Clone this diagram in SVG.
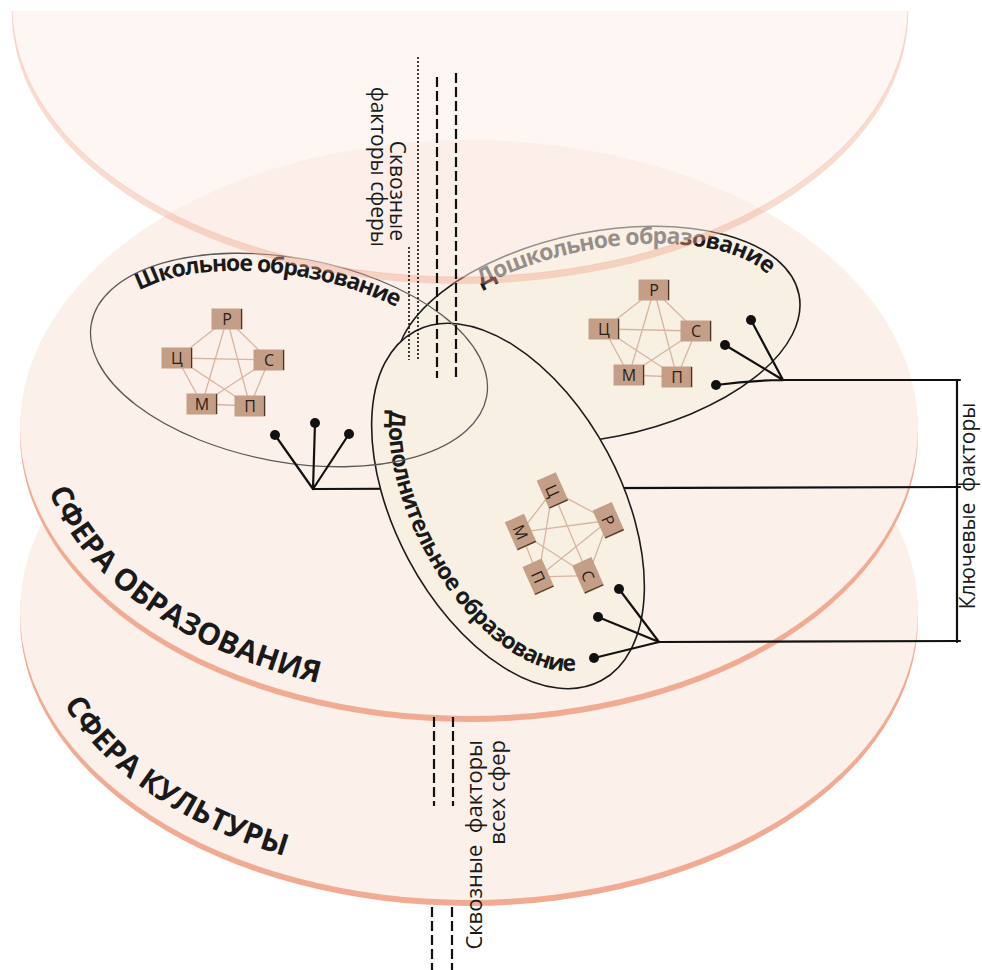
<svg xmlns="http://www.w3.org/2000/svg" xmlns:xlink="http://www.w3.org/1999/xlink" width="982" height="970" viewBox="0 0 982 970">
<style>
.sph-fill{fill:#fcf0ea}
.sph-edge{fill:#f1ab92}
.cl{fill:#f8f1e3;stroke:#1c1c1c;stroke-width:1.6}
.school{fill:none;stroke:#5a5a5a;stroke-width:1.3}
.lbl{font-family:"Open Sans","Noto Sans","DejaVu Sans",sans-serif;fill:#1a1a1a}
.b{font-weight:700}
.gl{stroke:#d8b5a1;stroke-width:1.3}
.box{fill:#c59e88}
.boxsh{stroke:#4a3526;stroke-width:1.2;fill:none}
.boxt{font-family:"Open Sans","Noto Sans",sans-serif;font-size:16px;fill:#2a1f18;text-anchor:middle}
.con{stroke:#111;stroke-width:2.2;fill:none;stroke-linecap:round}
.dot{fill:#111}
.dash{stroke:#111;stroke-width:2.2;stroke-dasharray:10 4;fill:none}
.dotl{stroke:#111;stroke-width:1.6;stroke-dasharray:2 2;fill:none}
</style>
<defs>
<clipPath id="clipTop"><rect x="0" y="11" width="982" height="400"/></clipPath>
<g id="pent">
<path class="gl" d="M2,-50L-48,-11M2,-50L44,-9M2,-50L-23,35M2,-50L25,37M-48,-11L44,-9M-48,-11L-23,35M-48,-11L25,37M44,-9L-23,35M44,-9L25,37M-23,35L25,37"/>
<g transform="translate(2,-50)"><rect class="box" x="-15.5" y="-10.5" width="31" height="21"/><path class="boxsh" d="M14.5,-10V10"/><text class="boxt" y="6">Р</text></g>
<g transform="translate(-48,-11)"><rect class="box" x="-15.5" y="-10.5" width="31" height="21"/><path class="boxsh" d="M14.5,-10V10"/><text class="boxt" y="6">Ц</text></g>
<g transform="translate(44,-9)"><rect class="box" x="-15.5" y="-10.5" width="31" height="21"/><path class="boxsh" d="M14.5,-10V10"/><text class="boxt" y="6">С</text></g>
<g transform="translate(-23,35)"><rect class="box" x="-15.5" y="-10.5" width="31" height="21"/><path class="boxsh" d="M14.5,-10V10"/><text class="boxt" y="6">М</text></g>
<g transform="translate(25,37)"><rect class="box" x="-15.5" y="-10.5" width="31" height="21"/><path class="boxsh" d="M14.5,-10V10"/><text class="boxt" y="6">П</text></g>
</g>
</defs>

<g id="sphere-culture">
<ellipse class="sph-edge" cx="469" cy="618" rx="449" ry="288"/>
<ellipse class="sph-fill" cx="469" cy="612" rx="449" ry="288"/>
</g>
<g id="sphere-education">
<ellipse class="sph-edge" cx="469" cy="434" rx="449" ry="288"/>
<ellipse class="sph-fill" cx="469" cy="428" rx="449" ry="288"/>
</g>

<g id="connectors-back">
<path class="con" d="M313,489L960,487"/>
</g>

<g id="cluster-preschool">
<ellipse class="cl" cx="598" cy="335" rx="205" ry="103" transform="rotate(-11.4 598 335)"/>
<use xlink:href="#pent" href="#pent" transform="translate(652,340)"/>
<g transform="translate(598,335) rotate(-11.4)">
<path id="tpPre" d="M-104.6,-70.5A187 85 0 0 1 185.2,-11.8" fill="none"/>
<text class="lbl b" font-size="23"><textPath href="#tpPre" xlink:href="#tpPre" textLength="300" lengthAdjust="spacing">Дошкольное образование</textPath></text>
</g>
</g>

<g id="cluster-additional">
<ellipse class="cl" cx="508" cy="506" rx="198" ry="113" transform="rotate(62 508 506)"/>
<use xlink:href="#pent" href="#pent" transform="translate(562,539) rotate(66)"/>
<g transform="translate(508,506) rotate(62)">
<path id="tpAdd" d="M-139.9,59.8A180 95 0 0 0 180,0" fill="none"/>
<text class="lbl b" font-size="23"><textPath href="#tpAdd" xlink:href="#tpAdd" textLength="350" lengthAdjust="spacing">Дополнительное образование</textPath></text>
</g>
</g>

<g id="cluster-school">
<ellipse class="school" cx="289" cy="360" rx="201" ry="102" transform="rotate(10.5 289 360)"/>
<use xlink:href="#pent" href="#pent" transform="translate(225,369)"/>
<g transform="translate(289,360) rotate(10.5)">
<path id="tpSch" d="M-160.1,-40.7A183 84 0 0 1 140.2,-54" fill="none"/>
<text class="lbl b" font-size="23"><textPath href="#tpSch" xlink:href="#tpSch" textLength="266" lengthAdjust="spacing">Школьное образование</textPath></text>
</g>
</g>

<g id="sphere-top" clip-path="url(#clipTop)">
<path d="M12,14A448 270 0 1 0 908,14A448 270 0 1 0 12,14ZM12,7A448 270 0 1 0 908,7A448 270 0 1 0 12,7Z" fill="#efa589" fill-opacity="0.4" fill-rule="evenodd"/>
<ellipse cx="460" cy="7" rx="448" ry="270" fill="#fbeee8" fill-opacity="0.55" stroke="#f0b29c" stroke-opacity="0.45" stroke-width="1"/>
</g>

<g id="cross-factors">
<path class="dotl" d="M418,57V360M409,247V360"/>
<path class="dash" d="M437,77V378M456,73V377"/>
<path class="dash" d="M434,717V806M453,717V806"/>
<path class="dash" d="M432,907V970M452,907V970"/>
<text class="lbl" font-size="21" transform="translate(390,241) rotate(90)" text-anchor="end">Сквозные</text>
<text class="lbl" font-size="21" transform="translate(371,247) rotate(90)" text-anchor="end">факторы сферы</text>
<text class="lbl" font-size="22" transform="translate(482,740) rotate(-90)" text-anchor="end">Сквозные&#160; факторы</text>
<text class="lbl" font-size="22" transform="translate(505,740) rotate(-90)" text-anchor="end">всех сфер</text>
</g>

<g id="connectors">
<path class="con" d="M275,435L313,489M315,423L313,489M349,434L313,489"/>
<path class="con" d="M751,320L783,380M725,345L783,380M716,385Q748,380.5 783,380L960,380"/>
<path class="con" d="M619,589L659,642M598,617L659,642M594,658L659,642L960,641"/>
<path class="con" d="M957,380V642"/>
<circle class="dot" cx="275" cy="435" r="5"/>
<circle class="dot" cx="315" cy="423" r="5"/>
<circle class="dot" cx="349" cy="434" r="5"/>
<circle class="dot" cx="751" cy="320" r="5"/>
<circle class="dot" cx="725" cy="345" r="5"/>
<circle class="dot" cx="716" cy="385" r="5"/>
<circle class="dot" cx="619" cy="589" r="5"/>
<circle class="dot" cx="598" cy="617" r="5"/>
<circle class="dot" cx="594" cy="658" r="5"/>
</g>

<g id="labels">
<path id="tpEdu" d="M49,491A431 270 0 0 0 544,696" fill="none"/>
<path id="tpCul" d="M64,704A431 270 0 0 0 544,878" fill="none"/>
<text class="lbl b" font-size="30"><textPath href="#tpEdu" xlink:href="#tpEdu">СФЕРА ОБРАЗОВАНИЯ</textPath></text>
<text class="lbl b" font-size="30"><textPath href="#tpCul" xlink:href="#tpCul">СФЕРА КУЛЬТУРЫ</textPath></text>
<text class="lbl" font-size="21" transform="translate(975,506) rotate(-90)" text-anchor="middle">Ключевые&#160; факторы</text>
</g>
</svg>
